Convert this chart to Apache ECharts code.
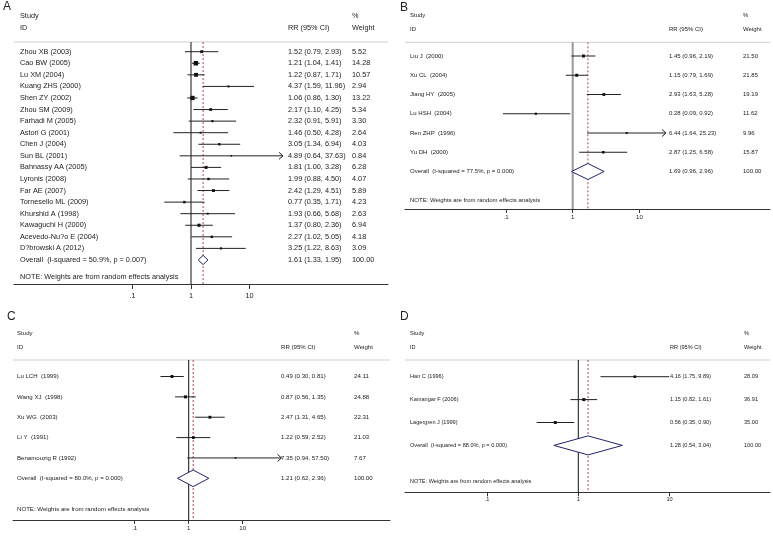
<!DOCTYPE html>
<html>
<head>
<meta charset="utf-8">
<script src="https://cdn.jsdelivr.net/npm/echarts@6/dist/echarts.min.js"></script>
<style>
html, body, #main { margin: 0; padding: 0; width: 773px; height: 536px; background: #fff; overflow: hidden; }
</style>
</head>
<body>
<div id="main"></div>
<script>
// ---- data: panel A
const studiesA = ["Zhou XB (2003)", "Cao BW (2005)", "Lu XM (2004)", "Kuang ZHS (2000)", "Shen ZY (2002)",
  "Zhou SM (2009)", "Farhadi M (2005)", "Astori G (2001)", "Chen J (2004)", "Sun BL (2001)",
  "Bahnassy AA (2005)", "Lyronis (2008)", "Far AE (2007)", "Tornesello ML (2009)", "Khurshid A (1998)",
  "Kawaguchi H (2000)", "Acevedo-Nu?o E (2004)", "D?browski A (2012)"];
const rrA = [1.52, 1.21, 1.22, 4.37, 1.06, 2.17, 2.32, 1.46, 3.05, 4.89, 1.81, 1.99, 2.42, 0.77, 1.93, 1.37, 2.27, 3.25];
const lowA = [0.79, 1.04, 0.87, 1.59, 0.86, 1.10, 0.91, 0.50, 1.34, 0.64, 1.00, 0.88, 1.29, 0.35, 0.66, 0.80, 1.02, 1.22];
const highA = [2.93, 1.41, 1.71, 11.96, 1.30, 4.25, 5.91, 4.28, 6.94, 37.63, 3.28, 4.50, 4.51, 1.71, 5.68, 2.36, 5.05, 8.63];
const weightA = [5.52, 14.28, 10.57, 2.94, 13.22, 5.34, 3.30, 2.64, 4.03, 0.84, 6.28, 4.07, 5.89, 4.23, 2.63, 6.94, 4.18, 3.09];
const overallA = [1.61, 1.33, 1.95];
const hetA = "Overall  (I-squared = 50.9%, p = 0.007)";

// ---- data: panel B
const studiesB = ["Liu J  (2000)", "Xu CL  (2004)", "Jiang HY  (2005)", "Lu HSH  (2004)", "Ren ZHP  (1996)", "Yu DH  (2000)"];
const rrB = [1.45, 1.15, 2.93, 0.28, 6.44, 2.87];
const lowB = [0.96, 0.79, 1.63, 0.09, 1.64, 1.25];
const highB = [2.19, 1.69, 5.28, 0.92, 25.23, 6.58];
const weightB = [21.50, 21.85, 19.19, 11.62, 9.96, 15.87];
const overallB = [1.69, 0.96, 2.96];
const hetB = "Overall  (I-squared = 77.5%, p = 0.000)";

// ---- data: panel C
const studiesC = ["Lu LCH  (1999)", "Wang XJ  (1998)", "Xu WG  (2003)", "Li Y  (1991)", "Benamouzig R (1992)"];
const rrC = [0.49, 0.87, 2.47, 1.22, 7.35];
const lowC = [0.30, 0.56, 1.31, 0.59, 0.94];
const highC = [0.81, 1.35, 4.65, 2.52, 57.50];
const weightC = [24.11, 24.88, 22.31, 21.03, 7.67];
const overallC = [1.21, 0.62, 2.36];
const hetC = "Overall  (I-squared = 80.0%, p = 0.000)";

// ---- data: panel D
const studiesD = ["Han C (1996)", "Kamangar F (2006)", "Lagergren J (1999)"];
const rrD = [4.16, 1.15, 0.56];
const lowD = [1.75, 0.82, 0.35];
const highD = [9.89, 1.61, 0.90];
const weightD = [28.09, 36.91, 35.00];
const overallD = [1.28, 0.54, 3.04];
const hetD = "Overall  (I-squared = 88.0%, p = 0.000)";

const tickValues = [0.1, 1, 10];
const tickLabels = [".1", "1", "10"];
const noteText = "NOTE: Weights are from random effects analysis";

// ---- layout (pixels): plot box, position of x=1, px per decade, first row y, row step
const panels = [
  { letter: "A", names: studiesA, rr: rrA, lo: lowA, hi: highA, w: weightA, ov: overallA, het: hetA,
    L: { left: 14, right: 388, top: 42, bottom: 284, x1: 191, dec: 58.5, row1: 51.7, step: 11.57,
         nameX: 20, rrX: 288, wX: 352, studyY: 16, idY: 28, noteY: 277, clip: 283, fs: 7.3,
         dh: 4.6, box: 4.5, ref: "#111", refW: 1, tick: 5, margin: 8, lx: 3, ly: 8 } },
  { letter: "B", names: studiesB, rr: rrB, lo: lowB, hi: highB, w: weightB, ov: overallB, het: hetB,
    L: { left: 405, right: 770, top: 42.3, bottom: 209, x1: 572.7, dec: 66.7, row1: 56, step: 19.25,
         nameX: 410, rrX: 669, wX: 743, studyY: 15, idY: 29, noteY: 200.7, clip: 666, fs: 6,
         dh: 8, box: 3, ref: "#999", refW: 2, tick: 4, margin: 5, lx: 400, ly: 8.5 } },
  { letter: "C", names: studiesC, rr: rrC, lo: lowC, hi: highC, w: weightC, ov: overallC, het: hetC,
    L: { left: 13, right: 390, top: 360, bottom: 520, x1: 188.7, dec: 54, row1: 376.5, step: 20.36,
         nameX: 17, rrX: 281, wX: 354, studyY: 333, idY: 347, noteY: 509.3, clip: 281.5, fs: 6.1,
         dh: 8.3, box: 3, ref: "#111", refW: 1, tick: 4, margin: 5, lx: 7, ly: 317.5 } },
  { letter: "D", names: studiesD, rr: rrD, lo: lowD, hi: highD, w: weightD, ov: overallD, het: hetD,
    L: { left: 405, right: 770, top: 360, bottom: 492.3, x1: 578.3, dec: 91.3, row1: 376.7, step: 22.9,
         nameX: 410, rrX: 670, wX: 744, studyY: 333, idY: 347, noteY: 481.7, clip: 700, fs: 5.6,
         dh: 9.5, box: 3, ref: "#111", refW: 1, tick: 4, margin: 4, lx: 400, ly: 318 } }
];

const FONT = '"Liberation Sans", Arial, sans-serif';
const fmt = v => v.toFixed(2);
const lg = v => Math.log10(v);

function xu(L, px) { return (px - L.x1) / L.dec; }          // pixel -> axis units
function yu(L, py) { return (py - L.row1) / L.step + 1; }   // pixel -> row units

function txt(p, s, fs, color) {
  return { type: "text", style: { x: p[0], y: p[1], text: s, font: fs + "px " + FONT,
    fill: color || "#222", align: "left", verticalAlign: "middle" } };
}

function frameRender(P) {
  const L = P.L;
  return function (params, api) {
    const x0 = xu(L, L.left), x9 = xu(L, L.right);
    const y0 = yu(L, L.top), y9 = yu(L, L.bottom);
    const tl = api.coord([x0, y0]), tr = api.coord([x9, y0]);
    const r0 = api.coord([0, y0]), r9 = api.coord([0, y9]);
    const d0 = api.coord([lg(P.ov[0]), y0]), d9 = api.coord([lg(P.ov[0]), y9]);
    const fs = L.fs;
    return { type: "group", children: [
      { type: "line", shape: { x1: tl[0], y1: tl[1], x2: tr[0], y2: tr[1] }, style: { stroke: "#cfcfcf", lineWidth: 1 } },
      { type: "line", shape: { x1: r0[0], y1: r0[1], x2: r9[0], y2: r9[1] }, style: { stroke: L.ref, lineWidth: L.refW } },
      { type: "line", shape: { x1: d0[0], y1: d0[1], x2: d9[0], y2: d9[1] }, style: { stroke: "#b8454a", lineWidth: 1, lineDash: [2, 2] } },
      txt(api.coord([xu(L, L.nameX), yu(L, L.studyY)]), "Study", fs),
      txt(api.coord([xu(L, L.nameX), yu(L, L.idY)]), "ID", fs),
      txt(api.coord([xu(L, L.rrX), yu(L, L.idY)]), "RR (95% CI)", fs),
      txt(api.coord([xu(L, L.wX), yu(L, L.studyY)]), "%", fs),
      txt(api.coord([xu(L, L.wX), yu(L, L.idY)]), "Weight", fs),
      txt(api.coord([xu(L, L.nameX), yu(L, L.noteY)]), noteText, fs)
    ] };
  };
}

function studyRender(P) {
  const L = P.L;
  const clip = xu(L, L.clip);
  const maxW = Math.max.apply(null, P.w);
  const n = P.names.length;
  return function (params, api) {
    const i = params.dataIndex;
    const row = api.value(0);
    const m = api.coord([api.value(1), row]);
    const a = api.coord([api.value(2), row]);
    const hiRaw = api.value(3);
    const b = api.coord([Math.min(hiRaw, clip), row]);
    const kids = [];
    let name, rr, lo, hi, w;
    if (i === n) {
      const h = L.dh;
      kids.push({ type: "polygon", shape: { points: [[a[0], m[1]], [m[0], m[1] - h], [b[0], m[1]], [m[0], m[1] + h]] },
        style: { fill: "#fff", stroke: "#23236e", lineWidth: 1 } });
      name = P.het; rr = P.ov[0]; lo = P.ov[1]; hi = P.ov[2]; w = 100;
    } else {
      kids.push({ type: "line", shape: { x1: a[0], y1: a[1], x2: b[0], y2: b[1] }, style: { stroke: "#222", lineWidth: 1 } });
      const s = Math.max(1.6, L.box * Math.sqrt(api.value(4) / maxW));
      kids.push({ type: "rect", shape: { x: m[0] - s / 2, y: m[1] - s / 2, width: s, height: s }, style: { fill: "#111" } });
      if (hiRaw > clip) {
        kids.push({ type: "polyline", shape: { points: [[b[0] - 4, b[1] - 3.5], [b[0], b[1]], [b[0] - 4, b[1] + 3.5]] },
          style: { stroke: "#222", lineWidth: 1, fill: null } });
      }
      name = P.names[i]; rr = P.rr[i]; lo = P.lo[i]; hi = P.hi[i]; w = P.w[i];
    }
    kids.push(txt(api.coord([xu(L, L.nameX), row]), name, L.fs));
    kids.push(txt(api.coord([xu(L, L.rrX), row]), fmt(rr) + " (" + fmt(lo) + ", " + fmt(hi) + ")", L.fs));
    kids.push(txt(api.coord([xu(L, L.wX), row]), fmt(w), L.fs));
    return { type: "group", children: kids };
  };
}

const grids = [], xAxes = [], yAxes = [], series = [], graphics = [];
panels.forEach((P, k) => {
  const L = P.L;
  grids.push({ left: L.left, top: L.top, width: L.right - L.left, height: L.bottom - L.top });
  xAxes.push({
    type: "value", gridIndex: k, position: "bottom",
    min: xu(L, L.left), max: xu(L, L.right),
    axisLine: { show: true, onZero: false, lineStyle: { color: "#333", width: 1 } },
    axisTick: { show: true, length: L.tick, customValues: tickValues.map(lg), lineStyle: { color: "#333" } },
    axisLabel: {
      customValues: tickValues.map(lg), margin: L.margin, color: "#222", fontSize: L.fs, fontFamily: FONT,
      formatter: v => { const j = tickValues.findIndex(t => Math.abs(lg(t) - v) < 1e-6); return j >= 0 ? tickLabels[j] : ""; }
    },
    splitLine: { show: false }
  });
  yAxes.push({ type: "value", gridIndex: k, inverse: true, show: false,
    min: yu(L, L.top), max: yu(L, L.bottom) });

  series.push({ type: "custom", xAxisIndex: k, yAxisIndex: k, silent: true, clip: false,
    renderItem: frameRender(P), data: [[0, 1]] });

  const rows = P.names.map((s, i) => [i + 1, lg(P.rr[i]), lg(P.lo[i]), lg(P.hi[i]), P.w[i]]);
  rows.push([P.names.length + 1, lg(P.ov[0]), lg(P.ov[1]), lg(P.ov[2]), 100]);
  series.push({ type: "custom", xAxisIndex: k, yAxisIndex: k, silent: true, clip: false,
    encode: { x: [1, 2, 3], y: 0 }, renderItem: studyRender(P), data: rows });

  graphics.push({ type: "text", left: L.lx, top: L.ly - 7,
    style: { text: P.letter, font: "12px " + FONT, fill: "#222" } });
});

const myChart = echarts.init(document.getElementById("main"), null, { renderer: "canvas" });
myChart.setOption({
  animation: false,
  backgroundColor: "#fff",
  grid: grids,
  xAxis: xAxes,
  yAxis: yAxes,
  series: series,
  graphic: graphics
});
</script>
</body>
</html>
